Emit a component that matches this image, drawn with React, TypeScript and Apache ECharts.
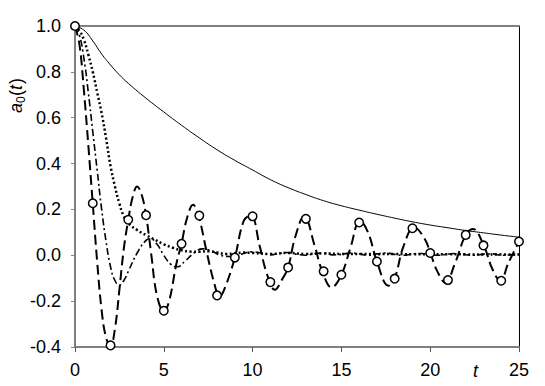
import React, { useEffect, useRef } from "react";
import * as echarts from "echarts";

const xTicks = [0, 5, 10, 15, 20, 25];
const yTicks = [-0.4, -0.2, 0.0, 0.2, 0.4, 0.6, 0.8, 1.0];

const solidT = [0, 0.5, 1, 1.5, 2, 2.5, 3, 4, 5, 6, 7, 8, 9, 10, 11, 12, 13, 14, 15, 16, 17, 18, 19, 20, 21, 22, 23, 24, 25];
const solidV = [1.0, 0.982, 0.935, 0.878, 0.83, 0.787, 0.75, 0.685, 0.625, 0.567, 0.512, 0.46, 0.414, 0.372, 0.33, 0.295, 0.265, 0.238, 0.216, 0.197, 0.179, 0.162, 0.146, 0.132, 0.12, 0.108, 0.098, 0.088, 0.079];

const dashT = [0, 0.25, 0.5, 0.75, 1, 1.25, 1.5, 1.75, 2, 2.25, 2.5, 2.75, 3, 3.25, 3.5, 3.75, 4, 4.3, 4.6, 5, 5.3, 5.7, 6, 6.3, 6.65, 6.95, 7.4, 7.8, 8.15, 8.5, 9, 9.5, 9.9, 10.4, 10.8, 11.25, 11.7, 12, 12.4, 12.9, 13.5, 13.9, 14.45, 15, 15.5, 16.05, 16.5, 17, 17.65, 18, 18.5, 19.1, 19.7, 20, 20.4, 20.85, 21.4, 22, 22.4, 23, 23.5, 23.95, 24.4, 25];
const dashV = [1, 0.92, 0.72, 0.48, 0.225, -0.03, -0.24, -0.36, -0.395, -0.32, -0.15, 0.03, 0.155, 0.255, 0.3, 0.265, 0.175, 0.0, -0.17, -0.245, -0.2, -0.04, 0.052, 0.16, 0.22, 0.175, 0.02, -0.11, -0.18, -0.13, -0.01, 0.15, 0.175, 0.04, -0.08, -0.15, -0.1, -0.053, 0.08, 0.17, 0.04, -0.065, -0.14, -0.085, 0.03, 0.15, 0.1, -0.027, -0.133, -0.1, 0.04, 0.122, 0.07, 0.012, -0.07, -0.12, -0.034, 0.089, 0.115, 0.046, -0.06, -0.111, -0.034, 0.06];

const ddT = [0, 0.25, 0.5, 0.75, 1, 1.25, 1.5, 1.75, 2, 2.25, 2.5, 2.75, 3, 3.5, 4, 4.25, 4.6, 5, 5.4, 5.75, 6.2, 6.7, 7.2, 7.7, 8.2, 8.7, 9.3, 10, 10.5, 11, 11.5, 12, 12.5, 13, 13.5, 14, 14.5, 15, 15.5, 16, 16.5, 17, 17.5, 18, 18.5, 19, 19.5, 20, 20.5, 21, 21.5, 22, 22.5, 23, 23.5, 24, 24.5, 25];
const ddV = [1, 0.96, 0.86, 0.71, 0.54, 0.37, 0.2, 0.06, -0.05, -0.11, -0.13, -0.11, -0.07, 0.01, 0.065, 0.072, 0.05, 0.0, -0.04, -0.05, -0.025, 0.01, 0.028, 0.018, 0.0, -0.005, 0.004, 0.015, 0.01, 0.002, 0.008, 0.012, 0.004, 0.0, 0.008, 0.01, 0.002, 0.004, 0.01, 0.006, 0.0, 0.006, 0.01, 0.004, 0.0, 0.006, 0.008, 0.003, 0.0, 0.005, 0.008, 0.002, 0.0, 0.005, 0.006, 0.0, 0.002, 0.004];

const dotT = [0, 0.25, 0.5, 0.75, 1, 1.25, 1.5, 1.75, 2, 2.25, 2.5, 2.75, 3, 3.5, 4, 4.5, 5, 5.5, 6, 6.5, 7, 7.5, 8, 8.5, 9, 9.5, 10, 11, 12, 13, 14, 15, 16, 17, 18, 19, 20, 21, 22, 23, 24, 25];
const dotV = [1, 0.98, 0.94, 0.875, 0.8, 0.71, 0.62, 0.51, 0.39, 0.3, 0.225, 0.17, 0.14, 0.11, 0.088, 0.068, 0.048, 0.033, 0.022, 0.016, 0.015, 0.018, 0.012, 0.006, 0.008, 0.012, 0.01, 0.006, 0.01, 0.006, 0.008, 0.006, 0.006, 0.005, 0.006, 0.004, 0.005, 0.004, 0.004, 0.003, 0.003, 0.003];

const circT = [0, 1, 2, 3, 4, 5, 6, 7, 8, 9, 10, 11, 12, 13, 14, 15, 16, 17, 18, 19, 20, 21, 22, 23, 24, 25];
const circV = [1.0, 0.227, -0.393, 0.155, 0.175, -0.242, 0.05, 0.173, -0.175, -0.01, 0.17, -0.117, -0.053, 0.159, -0.07, -0.085, 0.143, -0.027, -0.102, 0.118, 0.01, -0.108, 0.089, 0.043, -0.111, 0.06];

const zip = (t: number[], v: number[]) => t.map((x, i) => [x, v[i]]);

const FONT = "'Liberation Sans', Arial, sans-serif";

export default function App() {
  const ref = useRef<HTMLDivElement>(null);
  useEffect(() => {
    if (!ref.current) return;
    const chart = echarts.init(ref.current, undefined, { renderer: "svg" });
    const axisGray = "#808080";
    const option: any = {
      animation: false,
      backgroundColor: "#fff",
      grid: { left: 75, right: 26, top: 26, bottom: 39, containLabel: false },
      xAxis: [
        {
          type: "value",
          min: xTicks[0],
          max: xTicks[xTicks.length - 1],
          interval: 5,
          position: "bottom",
          axisLine: { show: true, onZero: false, lineStyle: { color: axisGray, width: 2 } },
          axisTick: { show: true, inside: false, length: 5, lineStyle: { color: "#555", width: 1 } },
          axisLabel: { fontSize: 18, color: "#000", fontFamily: FONT, margin: 14 },
          splitLine: { show: false },
        },
        {
          type: "value",
          min: xTicks[0],
          max: xTicks[xTicks.length - 1],
          interval: 5,
          position: "top",
          axisLine: { show: true, onZero: false, lineStyle: { color: axisGray, width: 2 } },
          axisTick: { show: false },
          axisLabel: { show: false },
          splitLine: { show: false },
        },
      ],
      yAxis: [
        {
          type: "value",
          min: yTicks[0],
          max: yTicks[yTicks.length - 1],
          interval: 0.2,
          position: "left",
          axisLine: { show: true, onZero: false, lineStyle: { color: axisGray, width: 2 } },
          axisTick: { show: true, inside: false, length: 4, lineStyle: { color: axisGray, width: 1 } },
          axisLabel: {
            fontSize: 18,
            color: "#000",
            fontFamily: FONT,
            margin: 14,
            formatter: (v: number) => (Math.abs(v) < 1e-9 ? 0 : v).toFixed(1),
          },
          splitLine: { show: false },
        },
        {
          type: "value",
          min: yTicks[0],
          max: yTicks[yTicks.length - 1],
          interval: 0.2,
          position: "right",
          axisLine: { show: true, onZero: false, lineStyle: { color: "#000", width: 1 } },
          axisTick: { show: false },
          axisLabel: { show: false },
          splitLine: { show: false },
        },
      ],
      series: [
        {
          type: "line",
          data: zip(solidT, solidV),
          smooth: true,
          symbol: "none",
          lineStyle: { color: "#000", width: 1 },
          z: 2,
        },
        {
          type: "line",
          data: zip(dotT, dotV),
          smooth: true,
          symbol: "none",
          lineStyle: { color: "#000", width: 2.5, type: [2, 2.5] },
          z: 2,
        },
        {
          type: "line",
          data: zip(ddT, ddV),
          smooth: true,
          symbol: "none",
          lineStyle: { color: "#000", width: 1.6, type: [7, 3, 2, 3] },
          z: 2,
        },
        {
          type: "line",
          data: zip(dashT, dashV),
          smooth: 0.4,
          symbol: "none",
          lineStyle: { color: "#000", width: 2, type: [10, 5] },
          z: 3,
        },
        {
          type: "scatter",
          data: zip(circT, circV),
          symbol: "circle",
          symbolSize: 8.5,
          itemStyle: { color: "#fff", borderColor: "#000", borderWidth: 1.5, opacity: 1 },
          z: 5,
        },
      ],
      graphic: [
        {
          type: "text",
          left: 473,
          top: 362,
          style: { text: "t", fontSize: 18, fontStyle: "italic", fontFamily: FONT, fill: "#000" },
        },
        {
          type: "group",
          x: 16,
          y: 113,
          rotation: Math.PI / 2,
          children: [
            { type: "text", x: 0, y: 0, style: { text: "a", fontSize: 18, fontStyle: "italic", fontFamily: FONT, fill: "#000", verticalAlign: "middle" } },
            { type: "text", x: 10, y: 5, style: { text: "0", fontSize: 12, fontFamily: FONT, fill: "#000", verticalAlign: "middle" } },
            { type: "text", x: 17, y: 0, style: { text: "(", fontSize: 18, fontFamily: FONT, fill: "#000", verticalAlign: "middle" } },
            { type: "text", x: 23, y: 0, style: { text: "t", fontSize: 18, fontStyle: "italic", fontFamily: FONT, fill: "#000", verticalAlign: "middle" } },
            { type: "text", x: 29, y: 0, style: { text: ")", fontSize: 18, fontFamily: FONT, fill: "#000", verticalAlign: "middle" } },
          ],
        },
      ],
    };
    chart.setOption(option);
    return () => chart.dispose();
  }, []);
  return <div ref={ref} style={{ position: "fixed", left: 0, top: 0, width: 545, height: 386 }} />;
}
